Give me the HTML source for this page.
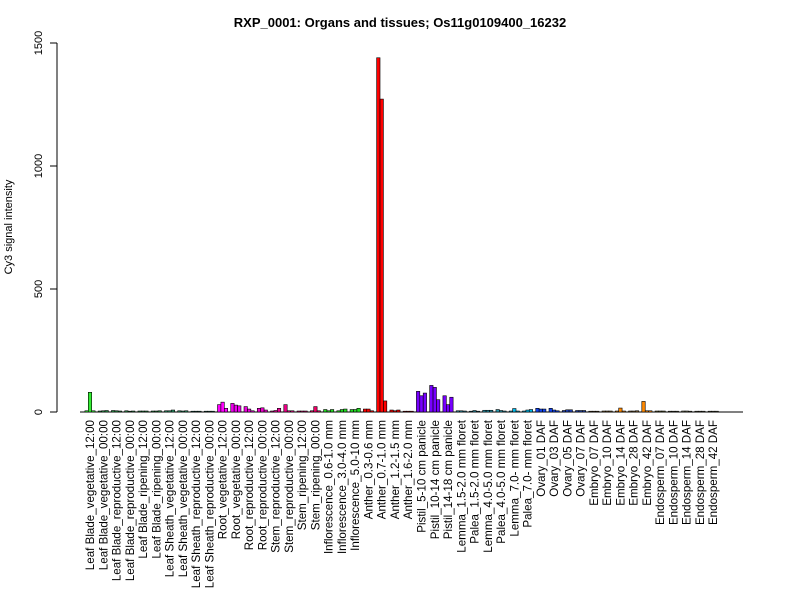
<!DOCTYPE html>
<html><head><meta charset="utf-8"><style>body{margin:0;background:#fff}svg{display:block}</style></head>
<body>
<svg id="s" width="800" height="600" xmlns="http://www.w3.org/2000/svg" font-family="Liberation Sans, Arial, sans-serif">
<rect width="800" height="600" fill="#fff"/>
<text x="400" y="27" text-anchor="middle" font-size="13" font-weight="bold">RXP_0001: Organs and tissues; Os11g0109400_16232</text>
<line x1="57" y1="43" x2="57" y2="412" stroke="#000"/>
<g stroke="#000"><line x1="50" y1="412" x2="57" y2="412"/><line x1="50" y1="289" x2="57" y2="289"/><line x1="50" y1="166" x2="57" y2="166"/><line x1="50" y1="43" x2="57" y2="43"/></g>
<g font-size="11" text-anchor="middle">
<text transform="translate(42,412) rotate(-90)">0</text>
<text transform="translate(42,289) rotate(-90)">500</text>
<text transform="translate(42,166) rotate(-90)">1000</text>
<text transform="translate(42,43) rotate(-90)">1500</text>
<text transform="translate(12,227) rotate(-90)">Cy3 signal intensity</text>
</g>
<line x1="80" y1="412" x2="743" y2="412" stroke="#000"/>
<g id="bars"></g><g id="labs" font-size="11.6" text-anchor="end"></g>
</svg>
<script>
var d=[
["Leaf Blade_vegetative_12:00","#33ee33",[5,80,5]],
["Leaf Blade_vegetative_00:00","#2a9a4a",[4,5,6]],
["Leaf Blade_reproductive_12:00","#2a9a4a",[6,5,4]],
["Leaf Blade_reproductive_00:00","#2a9a4a",[5,3,4]],
["Leaf Blade_ripening_12:00","#2a9a4a",[4,4,4]],
["Leaf Blade_ripening_00:00","#2a9a4a",[4,4,5]],
["Leaf Sheath_vegetative_12:00","#2a9a6a",[5,5,8]],
["Leaf Sheath_vegetative_00:00","#2a9a6a",[5,4,5]],
["Leaf Sheath_reproductive_12:00","#2a9a7a",[2,2,2]],
["Leaf Sheath_reproductive_00:00","#2a9a7a",[2,2,2]],
["Root_vegetative_12:00","#ff00ff",[30,40,15]],
["Root_vegetative_00:00","#ee00ee",[35,28,25]],
["Root_reproductive_12:00","#ee00dd",[22,12,5]],
["Root_reproductive_00:00","#ee00cc",[15,17,8]],
["Stem_reproductive_12:00","#ee0099",[4,6,15]],
["Stem_reproductive_00:00","#ee0088",[30,5,5]],
["Stem_ripening_12:00","#ee0077",[4,4,4]],
["Stem_ripening_00:00","#ee0066",[5,22,5]],
["Inflorescence_0.6-1.0 mm","#22dd22",[10,5,10]],
["Inflorescence_3.0-4.0 mm","#22dd22",[5,10,12]],
["Inflorescence_5.0-10 mm","#22dd22",[10,10,15]],
["Anther_0.3-0.6 mm","#ff0000",[12,12,5]],
["Anther_0.7-1.0 mm","#ff0000",[1440,1272,45]],
["Anther_1.2-1.5 mm","#ee0000",[8,5,8]],
["Anther_1.6-2.0 mm","#dd0000",[3,3,3]],
["Pistil_5-10 cm panicle","#7700ff",[84,66,77]],
["Pistil_10-14 cm panicle","#7700ff",[108,100,50]],
["Pistil_14-18 cm panicle","#7700ff",[66,30,60]],
["Lemma_1.5-2.0 mm floret","#2a8aa0",[5,5,4]],
["Palea_1.5-2.0 mm floret","#2a8aa0",[3,6,3]],
["Lemma_4.0-5.0 mm floret","#2a9ab0",[7,7,7]],
["Palea_4.0-5.0 mm floret","#2a9ab0",[10,6,4]],
["Lemma_7.0- mm floret","#00bbee",[4,14,4]],
["Palea_7.0- mm floret","#00bbee",[4,8,10]],
["Ovary_01 DAF","#1144ee",[15,12,12]],
["Ovary_03 DAF","#1144ee",[15,8,5]],
["Ovary_05 DAF","#2244bb",[6,9,9]],
["Ovary_07 DAF","#2244aa",[6,6,6]],
["Embryo_07 DAF","#886633",[3,3,3]],
["Embryo_10 DAF","#886633",[4,4,4]],
["Embryo_14 DAF","#ff8800",[4,16,4]],
["Embryo_28 DAF","#886633",[4,4,5]],
["Embryo_42 DAF","#ff8800",[43,5,5]],
["Endosperm_07 DAF","#666633",[4,4,4]],
["Endosperm_10 DAF","#777755",[3,3,3]],
["Endosperm_14 DAF","#888866",[4,4,3]],
["Endosperm_28 DAF","#888866",[3,3,3]],
["Endosperm_42 DAF","#888866",[3,3,3]]];
var b="",l="",sc=369/1500,w=3.4;
d.forEach(function(g,i){var c=90+i*13.26;
g[2].forEach(function(v,j){var h=Math.max(v*sc,0.8),x=c-5.1+j*w;
b+='<rect x="'+x.toFixed(2)+'" y="'+(412-h).toFixed(2)+'" width="'+w+'" height="'+h.toFixed(2)+'" fill="'+g[1]+'" stroke="#000" stroke-width="0.6"/>';});
l+='<text transform="translate('+(c+4).toFixed(2)+',420) rotate(-90)">'+g[0]+'</text>';});
document.getElementById("bars").innerHTML=b;document.getElementById("labs").innerHTML=l;
</script>
</body></html>
